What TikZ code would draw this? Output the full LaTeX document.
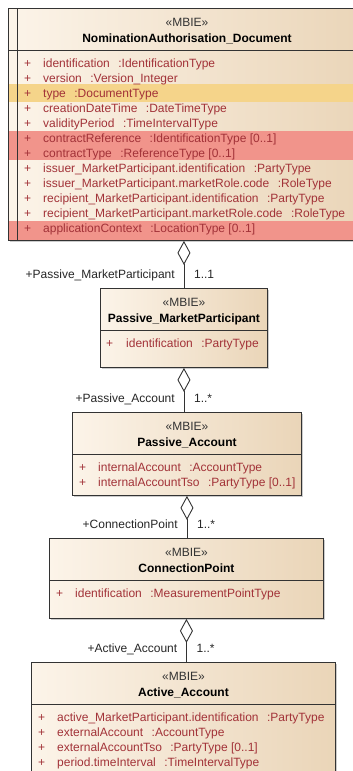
\documentclass[tikz,border=0pt]{standalone}
\usepackage{fontspec}
\setmainfont{Liberation Sans}
\usetikzlibrary{arrows.meta,shadows,positioning}

\definecolor{attrred}{HTML}{A23238}
\definecolor{boxlight}{HTML}{FCF4E9}
\definecolor{boxdark}{HTML}{EAD5B8}
\definecolor{hlyellow}{HTML}{F5D48A}
\definecolor{hlred}{HTML}{F1948B}
\definecolor{edgegray}{HTML}{333333}
\newcommand{\tsep}{\hspace{8.5pt}}

\begin{document}
\begin{tikzpicture}[x=1pt,y=-1pt,every node/.style={inner sep=0pt,font=\fontsize{12}{15}\selectfont},
classbox/.style={draw=edgegray,line width=0.9pt,anchor=north west,left color=boxlight,right color=boxdark,drop shadow={shadow xshift=1.5pt,shadow yshift=-1.5pt,opacity=0.4}},
sepline/.style={draw=edgegray,line width=0.9pt},
stereo/.style={anchor=base,text=black!80},
cname/.style={anchor=base,font=\fontsize{12}{15}\selectfont\bfseries},
plus/.style={anchor=base west,text=attrred},
attr/.style={anchor=base west,text=attrred},
role/.style={anchor=base east,text=black!85},
mult/.style={anchor=base west,text=black!85},
aggr/.style={draw=edgegray,line width=0.9pt,{Diamond[open,length=24pt,width=13pt]}-}]
\useasboundingbox (0,0) rectangle (353,771);
\clip (0,0) rectangle (353,771);

% NominationAuthorisation_Document
\node[classbox,minimum width=357pt,minimum height=232pt] (doc) at (8,8) {};
\fill[hlyellow] (9,84) rectangle (364,102);
\fill[hlred] (9,130.5) rectangle (364,160);
\fill[hlred] (9,220.5) rectangle (364,239.5);
\draw[sepline] (17,8) -- (17,240);
\draw[sepline] ([yshift=-42pt]doc.north west) -- ([yshift=-42pt]doc.north east);
\node[stereo] (doc-st) at ([yshift=-18pt]doc.north) {«MBIE»};
\node[cname] (doc-nm) at ([yshift=-34pt]doc.north) {NominationAuthorisation\_Document};
\foreach \a [count=\i from 0] in {identification\tsep:IdentificationType,
  version\tsep:Version\_Integer,
  type\tsep:DocumentType,
  creationDateTime\tsep:DateTimeType,
  validityPeriod\tsep:TimeIntervalType,
  contractReference\tsep:IdentificationType [0..1],
  contractType\tsep:ReferenceType [0..1],
  issuer\_MarketParticipant.identification\tsep:PartyType,
  issuer\_MarketParticipant.marketRole.code\tsep:RoleType,
  recipient\_MarketParticipant.identification\tsep:PartyType,
  recipient\_MarketParticipant.marketRole.code\tsep:RoleType,
  applicationContext\tsep:LocationType [0..1]}{
  \node[plus] (doc-p\i) at (24,67+15*\i) {+};
  \node[attr] (doc-a\i) at (43,67+15*\i) {\a};
}

% Passive_MarketParticipant
\node[classbox,minimum width=167pt,minimum height=79pt] (pmp) at (100,288) {};
\draw[sepline] ([yshift=-42pt]pmp.north west) -- ([yshift=-42pt]pmp.north east);
\node[stereo] (pmp-st) at ([yshift=-18pt]pmp.north) {«MBIE»};
\node[cname] (pmp-nm) at ([yshift=-34pt]pmp.north) {Passive\_MarketParticipant};
\node[plus] (pmp-p0) at (106,347) {+};
\node[attr] (pmp-a0) at (126,347) {identification\tsep:PartyType};

% Passive_Account
\node[classbox,minimum width=229pt,minimum height=83pt] (pa) at (72,412) {};
\draw[sepline] ([yshift=-42pt]pa.north west) -- ([yshift=-42pt]pa.north east);
\node[stereo] (pa-st) at ([yshift=-18pt]pa.north) {«MBIE»};
\node[cname] (pa-nm) at ([yshift=-34pt]pa.north) {Passive\_Account};
\foreach \a [count=\i from 0] in {internalAccount\tsep:AccountType,
  internalAccountTso\tsep:PartyType [0..1]}{
  \node[plus] (pa-p\i) at (79,471+15*\i) {+};
  \node[attr] (pa-a\i) at (98,471+15*\i) {\a};
}

% ConnectionPoint
\node[classbox,minimum width=274pt,minimum height=80pt] (cp) at (49,538) {};
\draw[sepline] ([yshift=-42pt]cp.north west) -- ([yshift=-42pt]cp.north east);
\node[stereo] (cp-st) at ([yshift=-18pt]cp.north) {«MBIE»};
\node[cname] (cp-nm) at ([yshift=-34pt]cp.north) {ConnectionPoint};
\node[plus] (cp-p0) at (56,597) {+};
\node[attr] (cp-a0) at (75,597) {identification\tsep:MeasurementPointType};

% Active_Account
\node[classbox,minimum width=304pt,minimum height=128pt] (aa) at (31,662) {};
\draw[sepline] ([yshift=-42pt]aa.north west) -- ([yshift=-42pt]aa.north east);
\node[stereo] (aa-st) at ([yshift=-18pt]aa.north) {«MBIE»};
\node[cname] (aa-nm) at ([yshift=-34pt]aa.north) {Active\_Account};
\foreach \a [count=\i from 0] in {active\_MarketParticipant.identification\tsep:PartyType,
  externalAccount\tsep:AccountType,
  externalAccountTso\tsep:PartyType [0..1],
  period.timeInterval\tsep:TimeIntervalType}{
  \node[plus] (aa-p\i) at (38,721+15*\i) {+};
  \node[attr] (aa-a\i) at (57,721+15*\i) {\a};
}

% aggregations
\coordinate (c1) at (doc.south -| pmp.north);
\coordinate (c2) at (pa.north -| pmp.south);
\coordinate (c3) at (cp.north -| pa.south);
\coordinate (c4) at (aa.north -| cp.south);
\draw[aggr] (c1) -- (pmp.north);
\draw[aggr] (pmp.south) -- (c2);
\draw[aggr] (pa.south) -- (c3);
\draw[aggr] (cp.south) -- (c4);
\node[role] (r1) at ([xshift=-9pt,yshift=10pt]pmp.north) {+Passive\_MarketParticipant};
\node[mult] (m1) at ([xshift=10pt,yshift=10pt]pmp.north) {1..1};
\node[role] (r2) at ([xshift=-9pt,yshift=10pt]c2) {+Passive\_Account};
\node[mult] (m2) at ([xshift=10pt,yshift=10pt]c2) {1..*};
\node[role] (r3) at ([xshift=-9pt,yshift=10pt]c3) {+ConnectionPoint};
\node[mult] (m3) at ([xshift=10pt,yshift=10pt]c3) {1..*};
\node[role] (r4) at ([xshift=-9pt,yshift=10pt]c4) {+Active\_Account};
\node[mult] (m4) at ([xshift=10pt,yshift=10pt]c4) {1..*};
\end{tikzpicture}
\end{document}
